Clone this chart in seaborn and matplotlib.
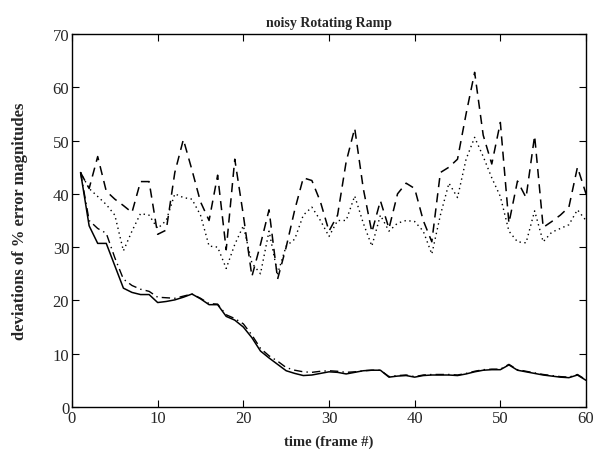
import numpy as np
import pandas as pd
import matplotlib
matplotlib.use("Agg")
import matplotlib.pyplot as plt
import seaborn as sns

frames = list(range(1, 61))

solid = [44, 34, 30.7, 30.7, 26.5, 22.3, 21.5, 21.1, 21.1, 19.6,
         19.8, 20.1, 20.6, 21.2, 20.3, 19.2, 19.2, 17.0, 16.3, 15.0,
         13.0, 10.5, 9.2, 8.0, 6.8, 6.3, 5.9, 6.0, 6.3, 6.6,
         6.5, 6.2, 6.5, 6.8, 6.9, 6.9, 5.6, 5.8, 5.9, 5.6,
         5.9, 6.0, 6.0, 6.0, 5.9, 6.2, 6.6, 6.9, 7.0, 7.0,
         7.9, 6.9, 6.6, 6.3, 6.0, 5.8, 5.6, 5.5, 6.0, 5.0]

dashdot = [44, 35, 33.5, 32.6, 28, 24, 22.8, 22.1, 21.7, 20.6,
           20.5, 20.4, 20.8, 21.2, 20.4, 19.4, 19.3, 17.3, 16.6, 15.6,
           13.5, 11.0, 9.6, 8.6, 7.4, 6.9, 6.6, 6.5, 6.7, 6.8,
           6.7, 6.5, 6.6, 6.8, 6.9, 6.9, 5.7, 5.9, 6.0, 5.7,
           6.0, 6.1, 6.1, 6.1, 6.0, 6.3, 6.7, 7.0, 7.1, 7.1,
           8.0, 7.0, 6.7, 6.4, 6.1, 5.9, 5.7, 5.6, 6.1, 5.1]

dashed = [44, 41, 47, 40.5, 39, 37.8, 36.5, 42.3, 42.3, 32.4,
          33.2, 44, 50.2, 44.5, 38.5, 35, 43.5, 29.5, 46.5, 36,
          24.5, 30.5, 37, 24, 30, 37, 43, 42.5, 38.5, 33,
          36, 46, 52.3, 41, 32.8, 38.7, 33.5, 40, 42, 41,
          35, 31, 44, 45, 46.5, 55, 62.8, 51, 45.6, 53.4,
          34.5, 42.4, 39.3, 50.9, 33.7, 34.8, 36, 37.5, 45, 40]

dotted = [44, 41, 39.5, 38, 36, 29.3, 33, 36.3, 36, 33.5,
          35, 40, 39.3, 39, 36, 30.2, 30, 26, 30.5, 34,
          27, 25, 33, 25, 30.2, 31.5, 36, 37.5, 35, 32,
          35, 35, 39.6, 34.5, 30.2, 36, 33, 34.5, 35, 34.8,
          33, 28.7, 36, 42, 39.3, 46.5, 50.6, 47, 43, 39.5,
          33, 31, 30.8, 36.8, 31, 32.8, 33.5, 34.2, 37, 35]

x_ticks = [0, 10, 20, 30, 40, 50, 60]
y_ticks = [0, 10, 20, 30, 40, 50, 60, 70]

sns.set_style("ticks")
plt.rcParams['font.family'] = ['Liberation Serif', 'DejaVu Serif']
plt.rcParams['xtick.direction'] = 'in'
plt.rcParams['ytick.direction'] = 'in'

fig = plt.figure(figsize=(5.97, 4.56), dpi=100)
ax = fig.add_axes([0.1206, 0.1053, 0.8610, 0.8180])

df = pd.DataFrame({"frame": frames, "solid": solid, "dashdot": dashdot,
                   "dashed": dashed, "dotted": dotted})

sns.lineplot(data=df, x="frame", y="solid", ax=ax, color="black", lw=1.1)
sns.lineplot(data=df, x="frame", y="dashdot", ax=ax, color="black", lw=1.0,
             linestyle=(0, (6, 3, 1, 3)))
sns.lineplot(data=df, x="frame", y="dashed", ax=ax, color="black", lw=1.1,
             linestyle=(0, (6, 4)))
sns.lineplot(data=df, x="frame", y="dotted", ax=ax, color="black", lw=1.0,
             linestyle=(0, (1, 2.5)))

ax.set_xlim(0, 60)
ax.set_ylim(0, 70)
ax.set_xticks(x_ticks)
ax.set_yticks(y_ticks)
ax.tick_params(axis='both', which='both', top=True, right=True, length=5,
               width=0.8, labelsize=12, color='black', pad=2)
for s in ax.spines.values():
    s.set_visible(True)
    s.set_linewidth(1.0)
    s.set_color('black')

ax.set_title("noisy Rotating Ramp", fontsize=10, fontweight='bold', pad=6)
ax.set_xlabel("time (frame #)", fontsize=10.5, fontweight='bold', labelpad=6)
ax.set_ylabel("deviations of % error magnitudes", fontsize=12, fontweight='bold', labelpad=18)

fig.savefig("out.png", dpi=100)
